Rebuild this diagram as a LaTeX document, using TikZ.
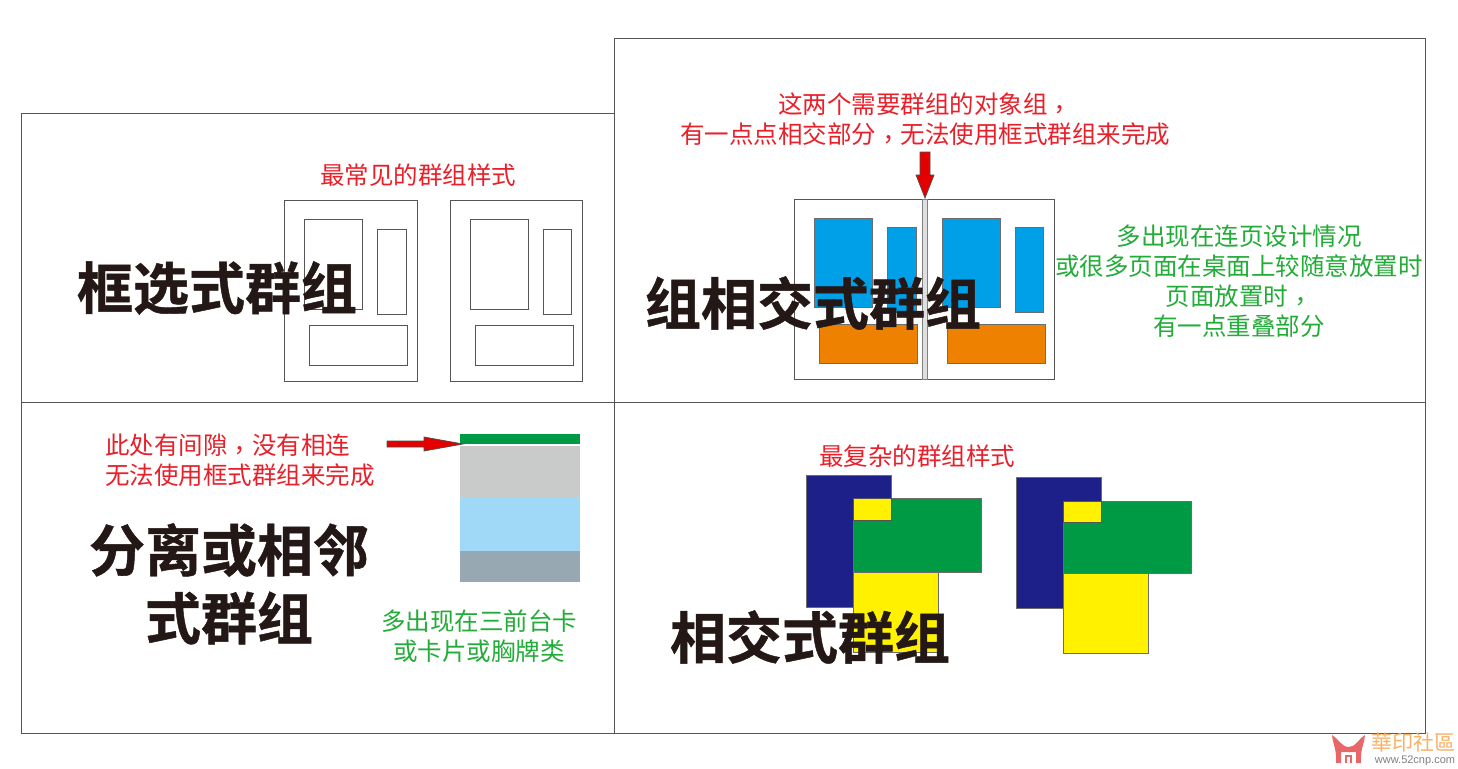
\documentclass[tikz,border=0pt]{standalone}
\usepackage{fontspec}
\setmainfont{Noto Sans CJK SC}[BoldFont={Noto Sans CJK SC Bold},BoldFeatures={FakeBold=0.8}]
\newfontfamily\tcfont{Noto Sans CJK TC}
\newfontfamily\latinfont{Liberation Sans}
\newcommand{\midcomma}{\smash{\raisebox{-5pt}{\tcfont ，}}}
\definecolor{inkk}{HTML}{231815}
\definecolor{redt}{HTML}{E8202A}
\definecolor{greent}{HTML}{22AC38}
\definecolor{lineg}{HTML}{555555}
\definecolor{bluef}{HTML}{00A0E9}
\definecolor{orangef}{HTML}{EE8100}
\definecolor{greenf}{HTML}{009944}
\definecolor{navyf}{HTML}{1D2088}
\definecolor{yellowf}{HTML}{FFF100}
\definecolor{grayf}{HTML}{C9CACA}
\definecolor{skyf}{HTML}{A0D8F7}
\definecolor{slatef}{HTML}{97A8B3}
\definecolor{logor}{HTML}{E8686A}
\definecolor{logot}{HTML}{F7B266}
\tikzset{
  x=1pt,y=-1pt,
  frameline/.style={draw=lineg,line width=1pt},
  wire/.style={draw=lineg,line width=1pt},
  filled/.style={draw=gray!85!black,line width=0.9pt},
  redarrow/.style={fill=red!90!black,draw=gray!60!black,line width=0.7pt},
  big/.style={inner sep=0pt,text=inkk,font=\fontsize{56}{56}\selectfont\bfseries},
  redtxt/.style={inner sep=0pt,text=redt,font=\fontsize{24.5}{30}\selectfont},
  greentxt/.style={inner sep=0pt,text=greent,font=\fontsize{24.5}{30}\selectfont},
}
\begin{document}
\begin{tikzpicture}
\useasboundingbox[fill=white] (0,0) rectangle (1458,768);
% frames
\draw[frameline] (21,113) rectangle (614.8,402);
\draw[frameline] (21,402) rectangle (614.8,733);
\draw[frameline] (614.8,39) rectangle (1425.8,402);
\draw[frameline] (614.8,402) rectangle (1425.8,733);
% panel 1 wireframes
\draw[wire] (284,200) rectangle (417,381);
\draw[wire] (304,219) rectangle (362,309);
\draw[wire] (377,229) rectangle (406,314);
\draw[wire] (309,325) rectangle (407,365);
\draw[wire] (450,200) rectangle (582,381);
\draw[wire] (470,219) rectangle (528,309);
\draw[wire] (543,229) rectangle (571,314);
\draw[wire] (475,325) rectangle (573,365);
% panel 2
\draw[wire] (794,199) rectangle (1054,379);
\draw[draw=gray,line width=1pt,fill=gray!25] (922,199) rectangle (927,379);
\draw[filled,fill=bluef] (814,218) rectangle (872,307);
\draw[filled,fill=bluef] (887,227) rectangle (916,312);
\draw[filled,fill=bluef] (942,218) rectangle (1000,307);
\draw[filled,fill=bluef] (1015,227) rectangle (1043,312);
\draw[filled,fill=orangef] (819,324) rectangle (917,363);
\draw[filled,fill=orangef] (947,324) rectangle (1045,363);
\draw[redarrow] (920,152) -- (930,152) -- (930,175) -- (934,175) -- (925,198) -- (916,175) -- (920,175) -- cycle;
% panel 3
\fill[greenf] (460,434) rectangle (580,444);
\fill[grayf] (460,446) rectangle (580,498);
\fill[skyf] (460,498) rectangle (580,551);
\fill[slatef] (460,551) rectangle (580,582);
\draw[redarrow] (387,441) -- (424,441) -- (424,437) -- (463,444) -- (424,451) -- (424,447) -- (387,447) -- cycle;
% panel 4
\draw[filled,fill=navyf] (806,475) rectangle (891,607);
\draw[filled,fill=yellowf] (853,572) rectangle (938,652);
\draw[filled,fill=greenf] (853,498) rectangle (981,572);
\draw[filled,fill=yellowf,draw=lineg] (853,498) rectangle (891,520);
\draw[filled,fill=navyf] (1016,477) rectangle (1101,608);
\draw[filled,fill=yellowf] (1063,573) rectangle (1148,653);
\draw[filled,fill=greenf] (1063,501) rectangle (1191,573);
\draw[filled,fill=yellowf,draw=lineg] (1063,501) rectangle (1101,522);
% texts
\node[big] (t1) at (217,288) {框选式群组};
\node[big] (t2) at (813,303) {组相交式群组};
\node[big] (t3a) at (229,550) {分离或相邻};
\node[big] (t3b) at (229,618) {式群组};
\node[big] (t4) at (810,637) {相交式群组};
\node[redtxt] (r1) at (418,175) {最常见的群组样式};
\node[redtxt] (r2a) at (925,104) {这两个需要群组的对象组\midcomma};
\node[redtxt] (r2b) at (925,134) {有一点点相交部分\midcomma 无法使用框式群组来完成};
\node[redtxt,anchor=west] (r3a) at (105,445) {此处有间隙\midcomma 没有相连};
\node[redtxt,anchor=west] (r3b) at (105,475) {无法使用框式群组来完成};
\node[redtxt] (r4) at (917,456) {最复杂的群组样式};
\node[greentxt] (g1) at (1239,236) {多出现在连页设计情况};
\node[greentxt] (g2) at (1239,266) {或很多页面在桌面上较随意放置时};
\node[greentxt] (g3) at (1239,296) {页面放置时\midcomma};
\node[greentxt] (g4) at (1239,326) {有一点重叠部分};
\node[greentxt] (g5) at (479,621) {多出现在三前台卡};
\node[greentxt] (g6) at (479,651) {或卡片或胸牌类};
% watermark
\fill[logor] (1332,735) .. controls (1338,738) and (1341,747) .. (1349,747)
  .. controls (1356,747) and (1359,738) .. (1365,735)
  .. controls (1364,745) and (1360,750) .. (1361,763) -- (1356,763) -- (1356,752) -- (1341,752) -- (1341,763) -- (1336,763)
  .. controls (1337,750) and (1333,745) .. (1332,735) -- cycle;
\fill[logor] (1345,755) rectangle (1352,757);
\fill[logor] (1345,755) rectangle (1347,763);
\fill[logor] (1350,755) rectangle (1352,763);
\node[inner sep=0pt,text=logot,font=\tcfont\fontsize{21}{21}\selectfont] (w1) at (1413,742) {華印社區};
\node[inner sep=0pt,text=gray,font=\latinfont\fontsize{11}{11}\selectfont] (w2) at (1415,761) {www.52cnp.com};
\end{tikzpicture}
\end{document}
